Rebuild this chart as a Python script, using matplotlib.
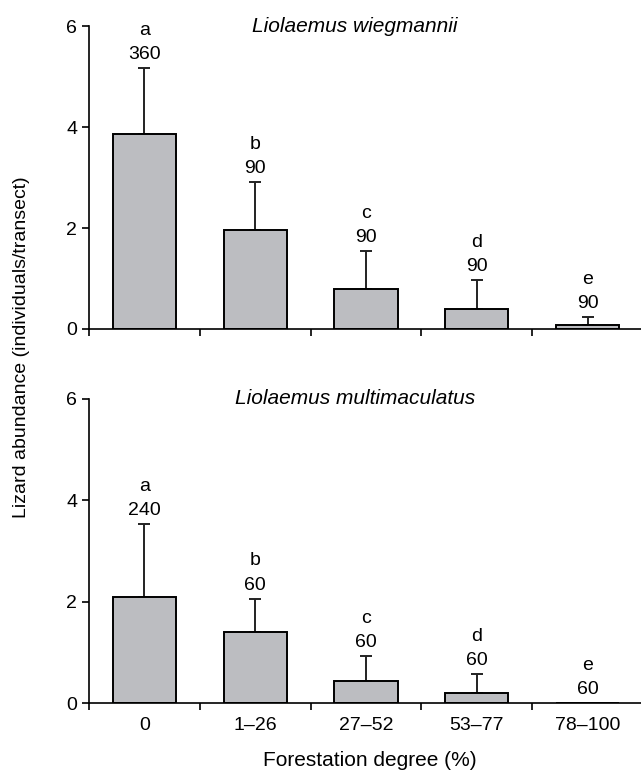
import numpy as np
import matplotlib.pyplot as plt

plt.rcParams['font.family'] = ['Liberation Sans', 'DejaVu Sans']

categories = ['0', '1\u201326', '27\u201352', '53\u201377', '78\u2013100']
letters = ['a', 'b', 'c', 'd', 'e']

# Liolaemus wiegmannii
wieg_mean = [3.86, 1.96, 0.79, 0.40, 0.07]
wieg_sd = [1.31, 0.95, 0.75, 0.57, 0.17]
wieg_n = [360, 90, 90, 90, 90]

# Liolaemus multimaculatus
mult_mean = [2.09, 1.41, 0.43, 0.20, 0.0]
mult_sd = [1.44, 0.65, 0.50, 0.37, 0.0]
mult_n = [240, 60, 60, 60, 60]

fig = plt.figure(figsize=(6.41, 7.74), dpi=100)
ax1 = fig.add_axes([0.139, 0.575, 0.864, 0.391])
ax2 = fig.add_axes([0.139, 0.0917, 0.864, 0.3928])

x = np.arange(len(categories)) + 0.5
fs = 14

def panel(ax, mean, sd, n, title, show_labels):
    ax.bar(x, mean, width=0.57, color='#bcbdc1', edgecolor='black', linewidth=1.4, zorder=2)
    for xi, m, s, ni, let in zip(x, mean, sd, n, letters):
        if s > 0:
            ax.errorbar(xi, m, yerr=[[0], [s]], fmt='none', ecolor='#222222',
                        elinewidth=1.4, capsize=4.5, capthick=1.4, zorder=1)
        top = m + s
        ax.annotate(str(ni), (xi, top), xytext=(0, 3.5), textcoords='offset points',
                    ha='center', va='bottom', fontsize=fs)
        ax.annotate(let, (xi, top), xytext=(0, 21), textcoords='offset points',
                    ha='center', va='bottom', fontsize=fs)
    ax.set_xlim(0, 5)
    ax.set_ylim(0, 6)
    ax.set_yticks([0, 2, 4, 6])
    ax.set_xticks([0, 1, 2, 3, 4, 5])
    ax.set_xticks(x, minor=True)
    ax.tick_params(axis='x', which='major', length=5, width=1.2, labelbottom=False, direction='out')
    ax.tick_params(axis='x', which='minor', length=0, labelsize=fs, pad=10)
    if show_labels:
        ax.set_xticklabels(categories, minor=True)
    else:
        ax.set_xticklabels([''] * 5, minor=True)
    ax.tick_params(axis='y', length=5, width=1.2, labelsize=fs)
    for side in ['top', 'right']:
        ax.spines[side].set_visible(False)
    for side in ['left', 'bottom']:
        ax.spines[side].set_linewidth(1.2)
    ax.text(0.48, 1.0, title, transform=ax.transAxes, ha='center', va='center',
            fontsize=15, style='italic')

panel(ax1, wieg_mean, wieg_sd, wieg_n, 'Liolaemus wiegmannii', False)
panel(ax2, mult_mean, mult_sd, mult_n, 'Liolaemus multimaculatus', True)

fig.text(0.034, 0.552, 'Lizard abundance (individuals/transect)', rotation=90,
         ha='center', va='center', fontsize=14)
fig.text(0.577, 0.017, 'Forestation degree (%)', ha='center', va='center', fontsize=15)

fig.savefig('out.png', dpi=100)
